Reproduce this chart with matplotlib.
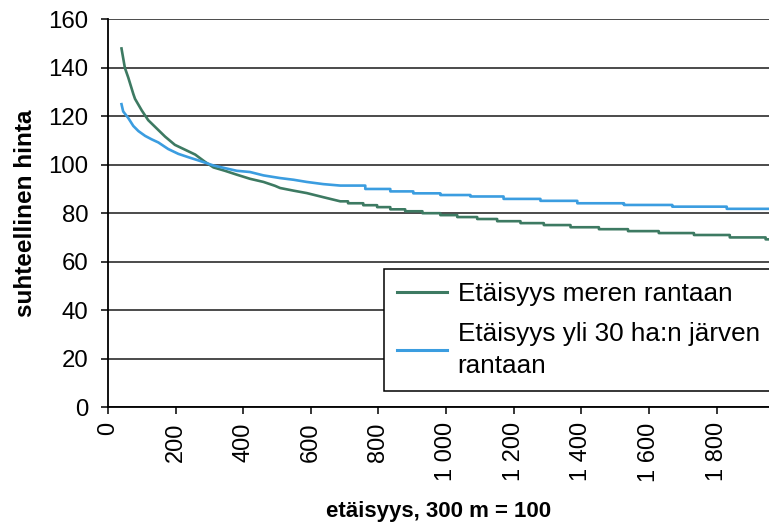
import matplotlib
matplotlib.use("Agg")
import matplotlib.pyplot as plt
from matplotlib.ticker import FuncFormatter, MultipleLocator
import numpy as np

plt.rcParams['font.family'] = ['Liberation Sans', 'DejaVu Sans']

# distance index (300 m = 100) vs relative price
# steep start is read point by point, the flat tail as constant steps
sea_head_d = [40, 50, 60, 75, 80, 100, 119, 144, 169, 198, 228, 258, 287, 312,
              346, 381, 420, 460, 494, 509, 549, 588, 637]
sea_head_v = [148, 140, 136, 129.2, 127.2, 122.4, 118.4, 115.0, 111.6, 108.2,
              106.2, 104.2, 101.2, 98.9, 97.5, 95.9, 94.2, 92.9, 91.3, 90.4,
              89.3, 88.3, 86.6]
sea_step_d = [687, 710, 755, 796, 835, 879, 930, 983, 1033, 1092, 1151, 1220,
              1289, 1368, 1452, 1538, 1629, 1733, 1839, 1945]
sea_step_v = [84.9, 84.1, 83.3, 82.5, 81.6, 80.8, 80.0, 79.2, 78.4, 77.6, 76.7,
              75.9, 75.1, 74.2, 73.4, 72.6, 71.8, 71.0, 70.0, 69.2]

lake_head_d = [40, 45, 60, 75, 90, 110, 129, 149, 178, 208, 238, 267, 312, 346,
               381, 420, 460, 509, 549, 588, 637]
lake_head_v = [125, 122, 119.3, 116, 113.9, 111.9, 110.5, 109.2, 106.5, 104.5,
               103.1, 101.8, 99.7, 98.6, 97.5, 97.0, 95.6, 94.5, 93.8, 92.9, 92.0]
lake_step_d = [687, 761, 835, 903, 983, 1072, 1170, 1279, 1388, 1526, 1669, 1830]
lake_step_v = [91.4, 90.0, 89.0, 88.2, 87.5, 86.9, 85.9, 85.1, 84.1, 83.4, 82.7,
               81.8]

x_end = 1955
labels = ["Etäisyys meren rantaan", "Etäisyys yli 30 ha:n järven\nrantaan"]
colors = ["#3d7a62", "#3b9de0"]


def staircase(head_d, head_v, step_d, step_v, end):
    starts = np.asarray(step_d, dtype=float)
    ends = np.append(starts[1:], end)
    xs = np.column_stack([starts, ends]).ravel()
    ys = np.repeat(step_v, 2)
    return np.concatenate([head_d, xs]), np.concatenate([head_v, ys])


fig = plt.figure(figsize=(7.69, 5.31), dpi=100)
ax = fig.add_axes([0.1404, 0.2335, 0.8596, 0.7300])

sx, sy = staircase(sea_head_d, sea_head_v, sea_step_d, sea_step_v, x_end)
lx, ly = staircase(lake_head_d, lake_head_v, lake_step_d, lake_step_v, x_end)
ax.plot(sx, sy, color=colors[0], lw=1.9, label=labels[0], zorder=3)
ax.plot(lx, ly, color=colors[1], lw=1.9, label=labels[1], zorder=3)

ax.set_xlim(0, x_end)
ax.set_ylim(0, 160)
ax.yaxis.set_major_locator(MultipleLocator(20))
ax.xaxis.set_major_locator(MultipleLocator(200))
ax.xaxis.set_major_formatter(FuncFormatter(lambda v, p: f"{int(v):,}".replace(",", " ")))
ax.grid(axis='y', color='#1a1a1a', lw=1.1)
ax.set_axisbelow(True)

for s in ['top', 'right']:
    ax.spines[s].set_visible(False)
for s in ['left', 'bottom']:
    ax.spines[s].set_linewidth(1.3)
    ax.spines[s].set_color('black')

ax.tick_params(axis='y', direction='out', length=5, width=1.1, pad=9, labelsize=17.3)
ax.tick_params(axis='x', direction='out', length=5, width=1.1, pad=6, labelsize=17,
               labelrotation=90)
for t in ax.get_xticklabels():
    t.set_verticalalignment('top')

ax.set_ylabel("suhteellinen hinta", fontsize=17.5, fontweight='bold', labelpad=8)
ax.set_xlabel("etäisyys, 300 m = 100", fontsize=16, fontweight='bold', labelpad=14)

leg = ax.legend(loc='upper left', bbox_to_anchor=(0.4993, 0.4934), bbox_transform=fig.transFigure,
                fontsize=18.8, frameon=True, fancybox=False, edgecolor='black',
                framealpha=1, handlelength=1.9, handletextpad=0.42, borderpad=0.5,
                labelspacing=0.6, borderaxespad=0)
leg.get_frame().set_linewidth(1.1)
for t in leg.get_texts():
    t.set_linespacing(1.45)
for h in leg.legend_handles:
    h.set_linewidth(2.2)

fig.savefig("out.png", dpi=100)
